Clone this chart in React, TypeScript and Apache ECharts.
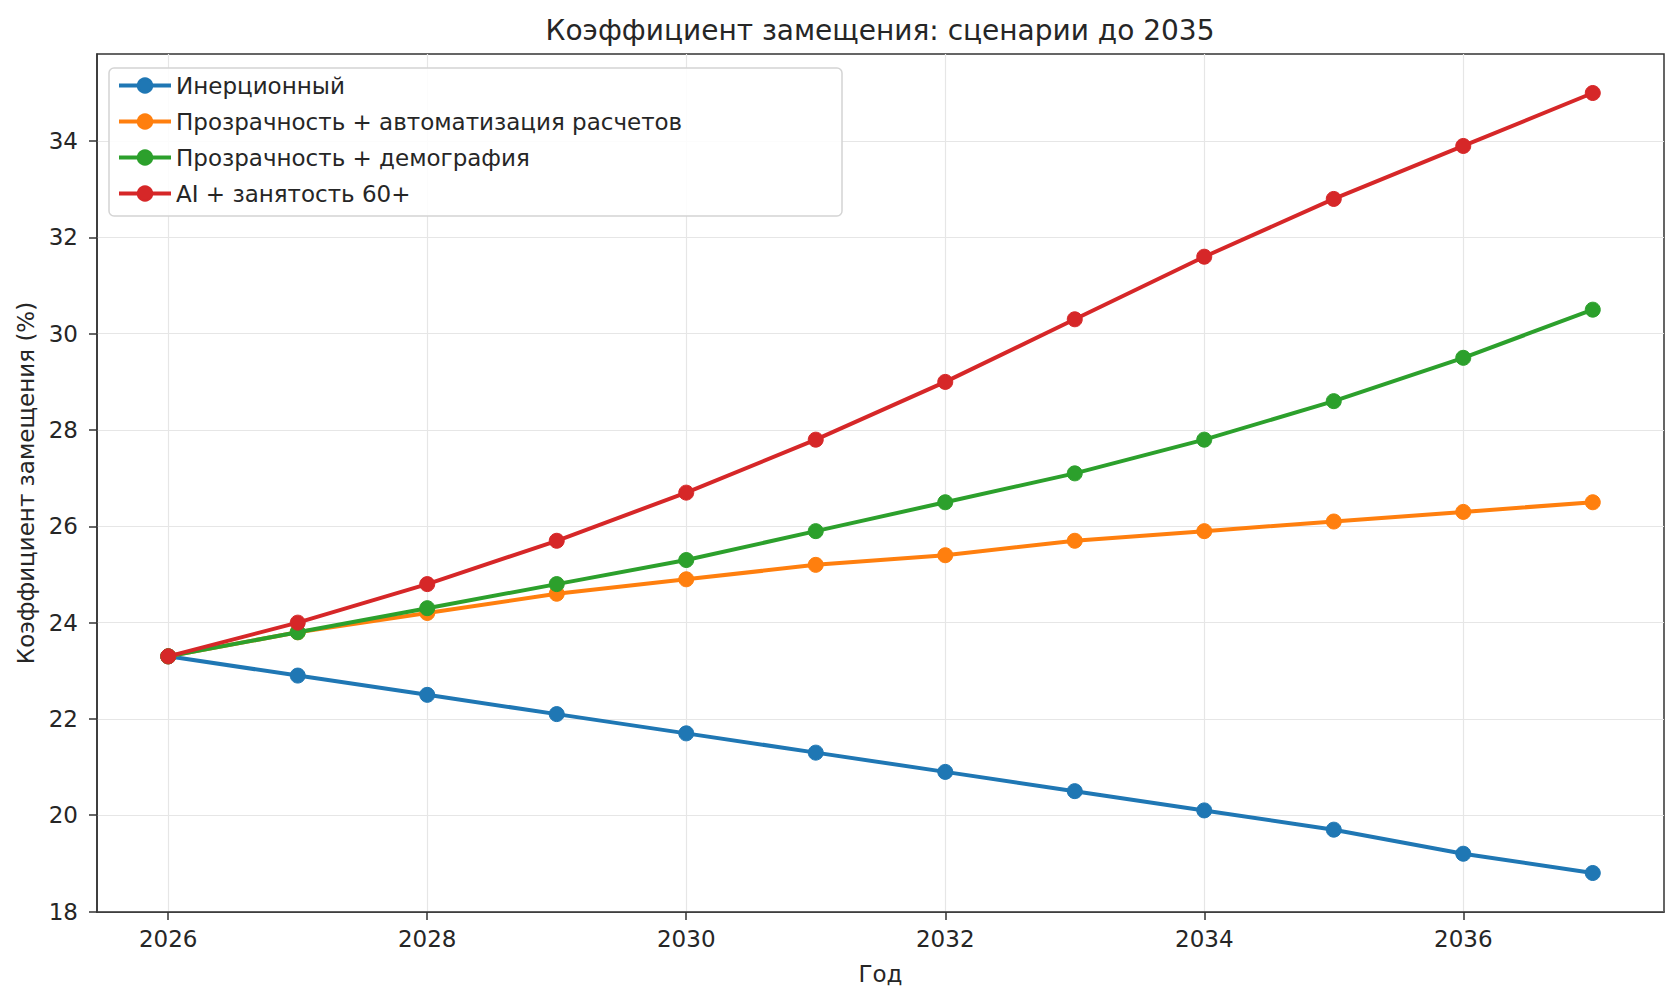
import React, { useEffect, useRef } from "react";
import * as echarts from "echarts";

const years = [2026, 2027, 2028, 2029, 2030, 2031, 2032, 2033, 2034, 2035, 2036, 2037];
const inertial = [23.3, 22.9, 22.5, 22.1, 21.7, 21.3, 20.9, 20.5, 20.1, 19.7, 19.2, 18.8];
const transparencyAuto = [23.3, 23.8, 24.2, 24.6, 24.9, 25.2, 25.4, 25.7, 25.9, 26.1, 26.3, 26.5];
const transparencyDemo = [23.3, 23.8, 24.3, 24.8, 25.3, 25.9, 26.5, 27.1, 27.8, 28.6, 29.5, 30.5];
const aiEmployment = [23.3, 24.0, 24.8, 25.7, 26.7, 27.8, 29.0, 30.3, 31.6, 32.8, 33.9, 35.0];

const seriesNames = [
  "Инерционный",
  "Прозрачность + автоматизация расчетов",
  "Прозрачность + демография",
  "AI + занятость 60+",
];
const seriesColors = ["#1f77b4", "#ff7f0e", "#2ca02c", "#d62728"];
const seriesValues = [inertial, transparencyAuto, transparencyDemo, aiEmployment];

const xTicks = [2026, 2028, 2030, 2032, 2034, 2036];
const yTicks = [18, 20, 22, 24, 26, 28, 30, 32, 34];

const FONT = "DejaVu Sans";
const TEXT = "#262626";

export default function App() {
  const ref = useRef<HTMLDivElement>(null);
  useEffect(() => {
    document.body.style.margin = "0";
    const chart = echarts.init(ref.current!, null, { renderer: "svg" });
    chart.setOption({
      animation: false,
      backgroundColor: "#ffffff",
      title: {
        text: "Коэффициент замещения: сценарии до 2035",
        left: 880,
        top: 16,
        padding: 0,
        textAlign: "center",
        textStyle: { fontFamily: FONT, fontSize: 28, fontWeight: "normal", color: TEXT },
      },
      grid: {
        left: 97,
        right: 16,
        top: 54,
        bottom: 90,
        show: true,
        borderColor: "#333333",
        borderWidth: 1.5,
        backgroundColor: "transparent",
      },
      graphic: [
        {
          type: "rect",
          z: 5,
          silent: true,
          shape: { x: 109, y: 68, width: 733, height: 148, r: 5 },
          style: { fill: "rgba(255,255,255,0.85)", stroke: "#d4d4d4", lineWidth: 1.5 },
        },
      ],
      legend: {
        z: 10,
        orient: "vertical",
        left: 109,
        top: 67,
        padding: [7, 10, 7, 8],
        itemWidth: 52,
        itemHeight: 18,
        itemGap: 13,
        lineStyle: { width: 4 },
        textStyle: { fontFamily: FONT, fontSize: 23, color: TEXT, lineHeight: 23 },
        data: seriesNames,
      },
      xAxis: {
        type: "value",
        min: 2025.45,
        max: 2037.55,
        name: "Год",
        nameLocation: "middle",
        nameGap: 50,
        nameTextStyle: { fontFamily: FONT, fontSize: 23, color: TEXT },
        axisLine: { show: true, lineStyle: { color: "#333333", width: 1.5 } },
        axisTick: { show: true, length: 8, customValues: xTicks, lineStyle: { color: "#333333", width: 1.5 } },
        axisLabel: {
          customValues: xTicks,
          margin: 15,
          fontFamily: FONT,
          fontSize: 23,
          color: TEXT,
          formatter: (v: number) => String(v),
        },
        splitLine: { show: true, lineStyle: { color: "#e6e6e6", width: 1.2 } },
      },
      yAxis: {
        type: "value",
        min: 17.99,
        max: 35.81,
        name: "Коэффициент замещения (%)",
        nameLocation: "middle",
        nameGap: 58,
        nameTextStyle: { fontFamily: FONT, fontSize: 23, color: TEXT },
        axisLine: { show: true, lineStyle: { color: "#333333", width: 1.5 } },
        axisTick: { show: true, length: 8, customValues: yTicks, lineStyle: { color: "#333333", width: 1.5 } },
        axisLabel: {
          customValues: yTicks,
          margin: 19,
          fontFamily: FONT,
          fontSize: 23,
          color: TEXT,
          formatter: (v: number) => String(v),
        },
        splitLine: { show: true, lineStyle: { color: "#e6e6e6", width: 1.2 } },
      },
      series: seriesNames.map((name, i) => ({
        name,
        type: "line",
        data: years.map((y, j) => [y, seriesValues[i][j]]),
        symbol: "circle",
        symbolSize: 15,
        showSymbol: true,
        lineStyle: { color: seriesColors[i], width: 4 },
        itemStyle: { color: seriesColors[i], borderColor: seriesColors[i], borderWidth: 1 },
        z: 2 + i,
      })),
    });
    return () => chart.dispose();
  }, []);
  return <div ref={ref} style={{ width: 1680, height: 1002 }} />;
}
